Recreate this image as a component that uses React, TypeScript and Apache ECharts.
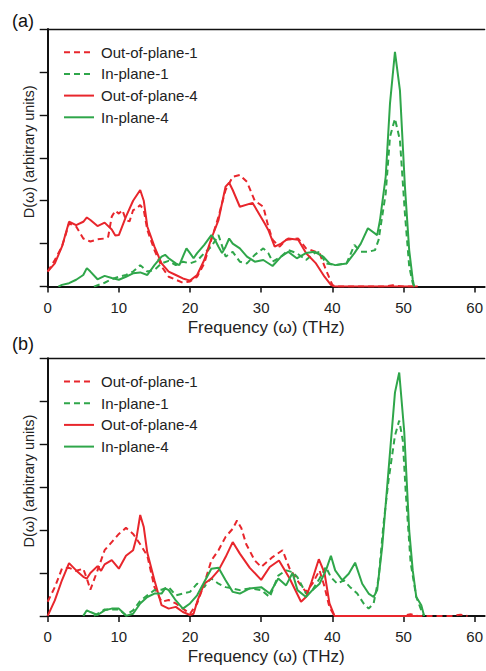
import React, { useEffect, useRef } from "react";
import * as echarts from "echarts";

// ---------- data (frequency THz, D(ω) arbitrary units) ----------
const xTicks = [0, 10, 20, 30, 40, 50, 60];
const seriesNames = ["Out-of-plane-1", "In-plane-1", "Out-of-plane-4", "In-plane-4"];

// panel (a)
const aOut1 = [[0,0.35],[1,0.62],[2,0.93],[3,1.47],[4,1.4],[5,1.12],[6,1.05],[7,1.1],[8,1.12],[8.5,1.16],[9,1.63],[9.5,1.77],[10,1.7],[10.5,1.78],[11,1.55],[11.5,1.52],[12,1.78],[12.5,1.82],[13,1.9],[13.5,1.78],[14,1.32],[15,0.85],[16,0.47],[17,0.23],[18,0.16],[19,0.09],[20,0.12],[21,0.23],[22,0.54],[23,1.09],[24,1.63],[25,2.25],[26,2.56],[27,2.6],[28,2.44],[29.1,2.0],[30.3,1.86],[31,1.4],[31.6,1.09],[32.6,0.93],[33.5,1.09],[35.2,1.12],[36.3,0.89],[38.2,0.78],[39.1,0.39],[40,0.04],[40.5,0],[47,0],[48.5,0.03],[50,0],[52,0]];
const aIn1 = [[6.5,0],[8,0.09],[9,0.17],[10,0.23],[11,0.27],[12,0.35],[13,0.5],[14,0.35],[15,0.39],[16,0.54],[17,0.6],[18,0.5],[19,0.58],[20,0.54],[21,0.6],[22,0.78],[23,0.93],[24,1.2],[25,0.7],[26,0.81],[27,0.58],[28,0.54],[29.1,0.74],[30.3,0.89],[31,0.78],[31.6,0.58],[32.8,0.7],[33.8,0.85],[35,0.78],[36.3,0.62],[37.5,0.78],[38.2,0.81],[39.1,0.54],[40.4,0.5],[42,0.54],[43.1,0.97],[44,0.81],[45,0.81],[46,0.85],[46.5,1.09],[47.5,2.17],[48.1,3.49],[48.8,3.91],[49.5,3.41],[50.2,1.7],[50.8,0.47],[51.3,0.08],[51.5,0]];
const aOut4 = [[0,0.35],[1,0.54],[2,0.93],[3,1.51],[4,1.43],[5,1.51],[5.5,1.61],[6,1.55],[7,1.41],[8,1.49],[9,1.33],[9.5,1.19],[10,1.2],[11,1.63],[12,2.0],[13,2.25],[13.5,2.0],[14,1.4],[15,0.93],[16,0.54],[17,0.35],[18,0.27],[19,0.19],[20,0.14],[21,0.27],[22,0.62],[23,1.12],[24,1.55],[25,2.33],[25.5,2.42],[26,2.25],[27,1.86],[28.8,1.95],[29.4,1.78],[30.5,1.47],[31,1.32],[31.9,0.93],[32.8,1.0],[33.8,1.12],[35.2,1.09],[36.3,0.78],[37.7,0.54],[38.9,0.23],[39.8,0.04],[40.3,0],[52,0]];
const aIn4 = [[1.5,0],[2,0.04],[3,0.08],[4,0.16],[5,0.27],[5.5,0.43],[6,0.35],[7,0.17],[8,0.25],[9,0.2],[10,0.16],[11,0.23],[12,0.31],[13,0.33],[14,0.27],[15,0.5],[16,0.7],[16.5,0.74],[17,0.66],[18,0.54],[18.5,0.5],[19,0.7],[19.5,0.89],[20,0.78],[20.5,0.66],[21,0.78],[22,0.97],[23,1.2],[23.5,1.09],[24,0.93],[24.5,0.78],[25,0.93],[25.5,1.12],[26,1.0],[27,0.89],[28,0.7],[29.1,0.58],[30.3,0.62],[31.6,0.48],[32.8,0.7],[33.8,0.81],[35,0.66],[36.3,0.78],[37.5,0.81],[38.7,0.7],[39.6,0.54],[40.4,0.5],[42,0.54],[43.1,0.78],[44,1.0],[45,1.36],[46.3,1.2],[46.7,1.55],[47.5,2.56],[48.1,4.26],[48.8,5.47],[49.5,4.57],[50.2,2.33],[50.8,0.85],[51.3,0.16],[51.5,0]];

// panel (b)
const bOut1 = [[0,0.33],[1,0.67],[2,1.1],[3,1.12],[4,1.05],[5,1.1],[5.5,0.87],[6,0.61],[7,1.06],[8,1.53],[9,1.72],[10,1.91],[11,2.05],[12,1.91],[13,1.67],[14,1.4],[15,0.67],[16,0.33],[17,0.37],[18,0.29],[19,0.17],[20,0.05],[21,0.29],[22,0.75],[23,1.29],[24,1.53],[25,1.84],[26,2.03],[26.6,2.22],[27.2,2.05],[27.9,1.67],[29.1,1.29],[30,1.14],[31.6,1.37],[33,1.53],[34,1.1],[35.4,0.75],[36.3,0.56],[37.2,0.75],[38.2,1.06],[38.9,0.68],[39.6,0.2],[40.3,0],[50,0],[51,0.04],[52,0],[57,0],[58,0.03],[59,0]];
const bIn1 = [[6.5,0],[7,0.05],[8,0.15],[9,0.15],[10,0.15],[11,0.02],[12,0.13],[13,0.35],[14,0.48],[15,0.6],[16,0.61],[17,0.67],[18,0.48],[19,0.52],[20,0.56],[21,0.75],[22,0.67],[22.5,0.79],[23,0.87],[24,0.75],[25,0.67],[26,0.64],[27,0.6],[28.4,0.64],[30,0.6],[31.2,0.44],[32.4,0.94],[33.5,1.06],[34.4,1.02],[35.1,0.9],[36.3,0.52],[37.2,0.6],[38.2,0.87],[39.1,1.14],[39.8,0.9],[40.7,0.75],[41.6,0.83],[42.5,0.67],[43.5,0.52],[44.4,0.29],[45.1,0.17],[45.8,0.29],[46.5,0.87],[47.2,2.15],[47.9,3.16],[48.8,4.2],[49.4,4.55],[49.9,4.09],[50.3,2.92],[51,1.24],[51.8,0.44],[52.5,0.13],[52.9,0]];
const bOut4 = [[0,0],[1,0.36],[2,0.83],[3,1.23],[4,1.06],[5,0.91],[5.5,0.87],[6,1.0],[7,1.16],[7.5,1.05],[8,1.2],[9,1.3],[10,1.1],[11,1.4],[12,1.53],[12.5,1.84],[13,2.35],[13.5,2.07],[14,1.47],[15,0.83],[16,0.25],[17,0.17],[18,0.21],[19,0.09],[20,0.02],[20.5,0.05],[21,0.33],[22,0.75],[23,0.87],[24,1.06],[25,1.37],[26,1.72],[27,1.45],[28.4,1.12],[30,0.84],[31.2,1.14],[32.5,1.29],[34,0.87],[35.6,0.33],[36.3,0.44],[37,0.75],[38.1,1.32],[38.9,1.0],[39.6,0.29],[40.3,0],[52,0]];
const bIn4 = [[5,0],[5.5,0.13],[6,0.09],[7,0.02],[8,0.13],[9,0.17],[10,0.17],[10.5,0.09],[11,0],[12,0.05],[13,0.29],[14,0.44],[15,0.52],[16,0.52],[16.5,0.64],[17,0.6],[18,0.36],[19,0.17],[20,0.29],[21,0.48],[22,0.79],[23,1.1],[24,1.12],[25,0.83],[26,0.56],[27,0.52],[28.4,0.64],[30,0.67],[31.2,0.52],[32.4,0.87],[33.5,0.71],[34.4,1.0],[35.1,0.6],[36.3,0.44],[37.2,0.6],[38.2,0.75],[39.1,1.06],[39.8,1.4],[40.4,1.06],[41.4,0.83],[42.3,0.98],[43.2,1.24],[44.2,0.75],[45.1,0.52],[45.8,0.44],[46.3,0.6],[47,1.6],[47.9,3.4],[48.8,5.2],[49.4,5.67],[50.1,4.3],[50.8,1.99],[51.3,1.06],[51.8,0.44],[52.5,0.25],[52.9,0]];

const RED = "#e8262c";
const GREEN = "#2fa64a";
const FONT = "Liberation Sans, Arial, sans-serif";

const panels = [
  { label: "(a)", data: [aOut1, aIn1, aOut4, aIn4] },
  { label: "(b)", data: [bOut1, bIn1, bOut4, bIn4] },
];

const styles = [
  { color: RED, type: [6, 4] },
  { color: GREEN, type: [6, 4] },
  { color: RED, type: "solid" },
  { color: GREEN, type: "solid" },
];

export default function App() {
  const ref = useRef<HTMLDivElement>(null);
  useEffect(() => {
    if (!ref.current) return;
    const chart = echarts.init(ref.current, null, { renderer: "svg" });
    const gridTops = [29, 358.3];
    const gridH = 257.6;
    const XMAX = 61.4;

    const grids = gridTops.map((t) => ({ left: 47.7, right: 0, top: t, height: gridH }));
    const xAxes: any[] = [];
    const yAxes: any[] = [];
    const series: any[] = [];
    const legends: any[] = [];
    gridTops.forEach((t, gi) => {
      xAxes.push({
        type: "value",
        gridIndex: gi,
        min: 0,
        max: XMAX,
        interval: 10,
        splitLine: { show: false },
        axisLine: { onZero: false, lineStyle: { color: "#111", width: 2 } },
        axisTick: { show: true, length: 6, inside: false, customValues: xTicks, lineStyle: { color: "#111", width: 1.5 } },
        axisLabel: { customValues: xTicks, fontSize: 15, color: "#222", fontFamily: FONT, margin: 13 },
        name: "Frequency (ω) (THz)",
        nameLocation: "middle",
        nameGap: 32,
        nameTextStyle: { fontSize: 17, color: "#222", fontFamily: FONT },
      });
      xAxes.push({
        type: "value",
        gridIndex: gi,
        position: "top",
        min: 0,
        max: XMAX,
        splitLine: { show: false },
        axisLine: { onZero: false, lineStyle: { color: "#111", width: 1.4 } },
        axisTick: { show: false },
        axisLabel: { show: false },
      });
      yAxes.push({
        type: "value",
        gridIndex: gi,
        min: 0,
        max: 6,
        interval: 1,
        splitLine: { show: false },
        axisLine: { show: true, lineStyle: { color: "#111", width: 2 } },
        axisTick: { show: true, length: 8, inside: false, lineStyle: { color: "#111", width: 1.4 } },
        axisLabel: { show: false },
        name: "D(ω) (arbitrary units)",
        nameLocation: "middle",
        nameGap: 11,
        nameTextStyle: { fontSize: 14.5, color: "#222", fontFamily: FONT, padding: [0, 0, 0, 12] },
      });
      panels[gi].data.forEach((d, si) => {
        series.push({
          type: "line",
          name: seriesNames[si],
          xAxisIndex: gi * 2,
          yAxisIndex: gi,
          data: d,
          symbol: "none",
          showSymbol: false,
          lineStyle: { color: styles[si].color, width: 2, type: styles[si].type },
          itemStyle: { color: styles[si].color },
          z: 2 + si,
        });
      });
      legends.push({
        orient: "vertical",
        left: 63,
        top: t + 15.7,
        padding: 0,
        itemWidth: 30,
        itemHeight: 14,
        itemGap: 6.7,
        selectedMode: false,
        itemStyle: { opacity: 0 },
        data: seriesNames,
        textStyle: { fontSize: 15, color: "#222", fontFamily: FONT, padding: [0, 0, 0, 2] },
      });
    });

    chart.setOption({
      animation: false,
      backgroundColor: "#fff",
      grid: grids,
      xAxis: xAxes,
      yAxis: yAxes,
      legend: legends,
      series,
      graphic: panels.map((p, i) => ({
        type: "text",
        left: 12,
        top: i === 0 ? 12 : 335,
        style: { text: p.label, fontSize: 18, fill: "#111", font: `18px ${FONT}` },
      })),
    });
    return () => chart.dispose();
  }, []);
  return (
    <div
      ref={ref}
      style={{ position: "fixed", left: 0, top: 0, width: 486, height: 671, background: "#fff" }}
    />
  );
}
